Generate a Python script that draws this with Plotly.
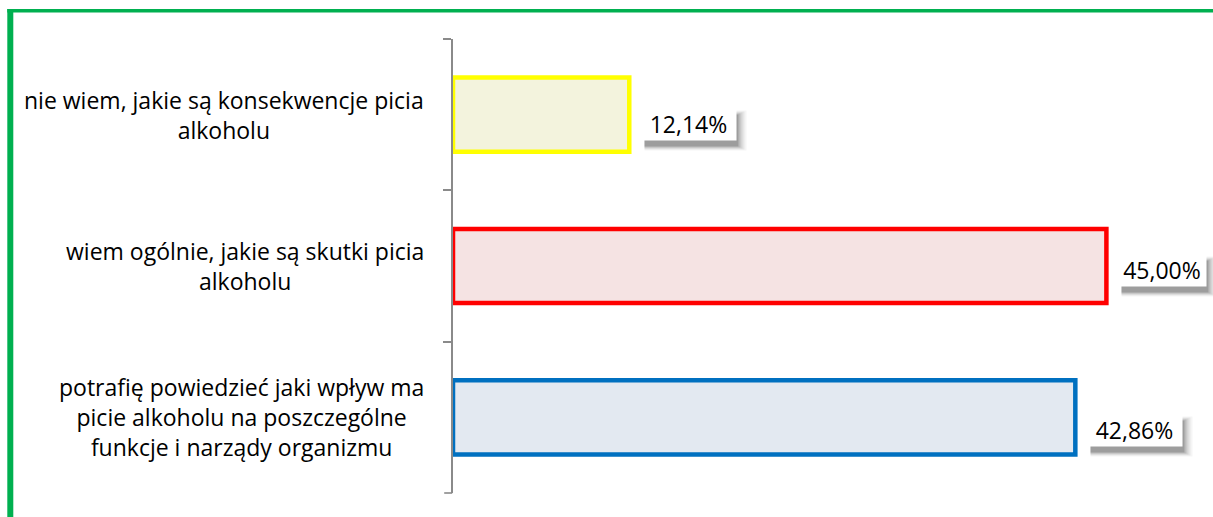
import plotly.graph_objects as go

# Survey answers (top to bottom) and their shares in percent
categories = [
    "nie wiem, jakie są konsekwencje picia<br>alkoholu",
    "wiem ogólnie, jakie są skutki picia<br>alkoholu",
    "potrafię powiedzieć jaki wpływ ma<br>picie alkoholu na poszczególne<br>funkcje i narządy organizmu",
]
values = [12.14, 45.00, 42.86]
value_labels = ["12,14%", "45,00%", "42,86%"]

# Styling
fill_colors = ["#F3F3DD", "#F5E3E3", "#E3E9F1"]
line_colors = ["#FFFF00", "#FF0000", "#0070C0"]
label_dy = [-9, -3, -12]          # vertical nudge of each value label (px)
label_w = [93, 86, 93]            # inner width of each value-label box (px)
FONT = "Open Sans"
FS = 23
AXIS_GREY = "#8A8A8A"
FRAME_GREEN = "#00B050"

W, H = 1213, 517
M_L, M_R, M_T, M_B = 453, 34, 39, 24


def px_x(px):
    return (px - M_L) / (W - M_L - M_R)


def px_y(py):
    return (H - M_B - py) / (H - M_T - M_B)


fig = go.Figure()
fig.add_trace(go.Bar(
    y=categories,
    x=values,
    orientation="h",
    width=0.49,
    marker=dict(color=fill_colors, line=dict(color=line_colors, width=4.5)),
    hoverinfo="skip",
))

annotations = []

# Category labels: centred text blocks right-aligned against the axis
for cat in categories:
    annotations.append(dict(
        x=0, xref="paper", y=cat, yref="y",
        text=cat, showarrow=False,
        xanchor="right", yanchor="middle", xshift=-27,
        align="center",
        font=dict(family=FONT, size=FS, color="#000000"),
    ))

# Value labels in white boxes with a soft drop shadow
for cat, val, lab, dy, bw in zip(categories, values, value_labels, label_dy, label_w):
    for pad, alpha in [(5, 0.04), (4, 0.06), (3, 0.08), (2, 0.11), (1, 0.16)]:
        annotations.append(dict(
            x=val, xref="x", y=cat, yref="y",
            text="\u00a0", showarrow=False,
            xanchor="left", yanchor="middle",
            xshift=11 + 4, yshift=dy - 7,
            width=bw - 2, height=29,
            borderpad=pad,
            bgcolor=f"rgba(0,0,0,{alpha})",
            font=dict(family=FONT, size=FS, color="rgba(0,0,0,0)"),
        ))
    annotations.append(dict(
        x=val, xref="x", y=cat, yref="y",
        text=lab, showarrow=False,
        xanchor="left", yanchor="middle",
        xshift=11, yshift=dy,
        width=bw, height=31,
        borderpad=1,
        bgcolor="#FFFFFF",
        font=dict(family=FONT, size=FS, color="#000000"),
    ))

# Green frame around the chart (left and top edges visible)
shapes = [
    dict(type="line", xref="paper", yref="paper",
         x0=px_x(10.3), x1=px_x(10.3), y0=px_y(8.9), y1=px_y(H + 10),
         line=dict(color=FRAME_GREEN, width=6)),
    dict(type="line", xref="paper", yref="paper",
         x0=px_x(7.3), x1=px_x(W + 10), y0=px_y(10.7), y1=px_y(10.7),
         line=dict(color=FRAME_GREEN, width=3.6)),
    # closing tick at the lower end of the category axis
    dict(type="line", xref="paper", yref="paper",
         x0=px_x(M_L - 8.8), x1=px_x(M_L - 0.8), y0=0, y1=0,
         line=dict(color=AXIS_GREY, width=1.6)),
]

fig.update_layout(
    width=W, height=H,
    margin=dict(l=M_L, r=M_R, t=M_T, b=M_B, pad=0),
    paper_bgcolor="#FFFFFF",
    plot_bgcolor="#FFFFFF",
    showlegend=False,
    annotations=annotations,
    shapes=shapes,
    xaxis=dict(range=[0, 50], visible=False, fixedrange=True),
    yaxis=dict(
        type="category",
        categoryorder="array",
        categoryarray=categories,
        autorange="reversed",
        showticklabels=False,
        showgrid=False,
        zeroline=False,
        showline=True,
        linecolor=AXIS_GREY,
        linewidth=1.6,
        ticks="outside",
        tickson="boundaries",
        ticklen=8,
        tickwidth=1.6,
        tickcolor=AXIS_GREY,
        fixedrange=True,
    ),
)

fig.write_html("out.html", config={"displayModeBar": False})
